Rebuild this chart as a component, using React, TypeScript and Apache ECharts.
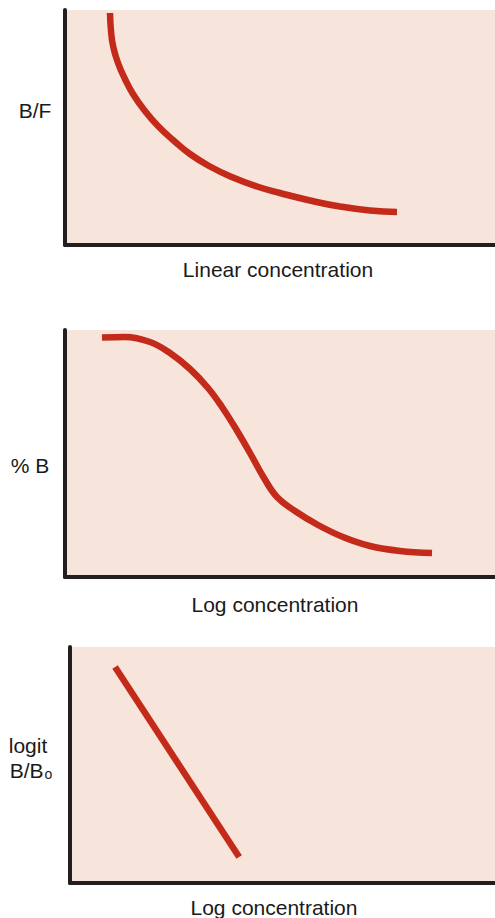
import React, { useEffect, useRef } from "react";
import * as echarts from "echarts";

// Panel 1: B/F vs linear concentration (axis range 0..100)
const curve1X = [10.47, 10.7, 11.23, 12.33, 13.95, 15.81, 18.6, 21.63, 25.12, 29.07, 33.72, 39.07, 44.65, 50.0, 56.98, 63.95, 70.93, 77.21];
const curve1Y = [98.72, 91.06, 84.26, 77.45, 70.64, 64.26, 57.02, 50.64, 44.68, 38.72, 33.4, 28.72, 24.89, 22.13, 18.94, 16.38, 14.68, 14.04];

// Panel 2: % B vs log concentration
const curve2X = [8.6, 13.95, 19.77, 24.42, 29.07, 33.26, 36.51, 39.77, 43.02, 46.28, 49.3, 53.49, 58.84, 64.65, 70.93, 77.91, 85.35];
const curve2Y = [96.96, 97.17, 95.14, 90.69, 84.21, 76.52, 68.83, 59.92, 50.2, 40.08, 32.39, 26.72, 21.05, 16.19, 12.55, 10.53, 9.72];

// Panel 3: logit B/Bo vs log concentration
const line3X = [10.6, 39.8];
const line3Y = [91.5, 11.0];

const xNames = ["Linear concentration", "Log concentration", "Log concentration"];

const RED = "#c42a1a";
const BG = "#f7e4da";
const AXIS = "#231f20";
const FONT = "Liberation Sans, Arial, Helvetica, sans-serif";

function zip(xs: number[], ys: number[]) {
  return xs.map((x, i) => [x, ys[i]]);
}

export default function App() {
  const ref = useRef<HTMLDivElement>(null);
  useEffect(() => {
    document.body.style.margin = "0";
    const chart = echarts.init(ref.current!, null, { renderer: "svg" });
    const grids = [
      { left: 65, top: 10, width: 430, height: 235 },
      { left: 65, top: 330, width: 430, height: 247 },
      { left: 70, top: 647, width: 425, height: 236 },
    ];
    const axisCommon = {
      type: "value" as const,
      min: 0,
      max: 100,
      axisLine: { show: true, lineStyle: { color: AXIS, width: 4 } },
      axisTick: { show: false },
      axisLabel: { show: false },
      splitLine: { show: false },
    };
    const textEl = (text: any, x: number, y: number, rich?: any) => ({
      type: "text",
      x,
      y,
      style: {
        text,
        fontSize: 21,
        fontFamily: FONT,
        fill: "#1a1a1a",
        align: "center",
        verticalAlign: "middle",
        textAlign: "center",
        textVerticalAlign: "middle",
        ...(rich ? { rich } : {}),
      },
    });
    const lineSeries = (idx: number, data: number[][], smooth: number | boolean) => ({
      type: "line",
      xAxisIndex: idx,
      yAxisIndex: idx,
      data,
      smooth,
      showSymbol: false,
      symbol: "none",
      lineStyle: { color: RED, width: 6.5, cap: "butt" },
    });
    chart.setOption({
      animation: false,
      grid: grids.map((g) => ({ ...g, show: true, backgroundColor: BG, borderWidth: 0 })),
      xAxis: grids.map((_, i) => ({ ...axisCommon, gridIndex: i })),
      yAxis: grids.map((_, i) => ({ ...axisCommon, gridIndex: i })),
      series: [
        lineSeries(0, zip(curve1X, curve1Y), 0.5),
        lineSeries(1, zip(curve2X, curve2Y), 0.4),
        lineSeries(2, zip(line3X, line3Y), false),
      ],
      graphic: [
        textEl("B/F", 35, 110),
        textEl(xNames[0], 278, 269),
        textEl("% B", 30, 465),
        textEl(xNames[1], 275, 604),
        textEl("logit", 28, 745),
        textEl("B/B{sub|o}", 31, 770, {
          sub: { fontSize: 14, fontFamily: FONT, fill: "#1a1a1a", verticalAlign: "bottom", padding: [0, 0, 0, 1] },
        }),
        textEl(xNames[2], 274, 907),
      ],
    });
    return () => chart.dispose();
  }, []);
  return <div ref={ref} style={{ position: "absolute", left: 0, top: 0, width: 495, height: 918 }} />;
}
